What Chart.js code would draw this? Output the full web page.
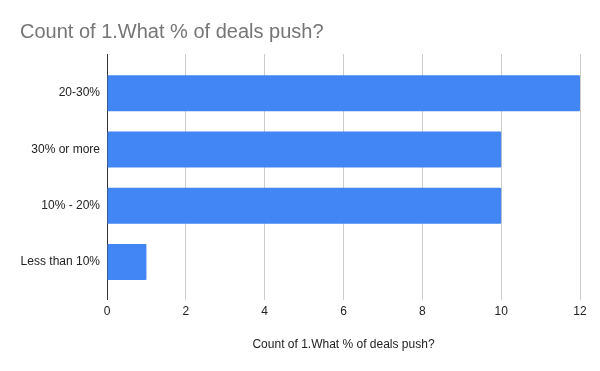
<!DOCTYPE html>
<html>
<head>
<meta charset="utf-8">
<script src="https://cdn.jsdelivr.net/npm/chart.js@4"></script>
<style>
  html, body { margin: 0; padding: 0; background: #fff; }
  #wrap { width: 600px; height: 371px; }
</style>
</head>
<body>
<div id="wrap"><canvas id="dealsChart"></canvas></div>
<script>
// data
const categories = ['20-30%', '30% or more', '10% - 20%', 'Less than 10%'];
const counts = [12, 10, 10, 1];
const xTicks = [0, 2, 4, 6, 8, 10, 12];

const fontFamily = "'Liberation Sans', Arial, sans-serif";

// Google-style grid lines poke out a bit above the plot area
const gridOverhang = {
    id: 'gridOverhang',
    beforeDatasetsDraw(chart) {
        const x = chart.scales.x;
        const ctx = chart.ctx;
        const top = chart.chartArea.top;
        ctx.save();
        ctx.lineWidth = 1;
        x.ticks.forEach(t => {
            const px = Math.round(x.getPixelForValue(t.value) - 0.5) + 0.5;
            ctx.strokeStyle = t.value === 0 ? '#333333' : '#cccccc';
            ctx.beginPath();
            ctx.moveTo(px, top - 11);
            ctx.lineTo(px, top);
            ctx.stroke();
        });
        ctx.restore();
    }
};

const dealsCtx = document.getElementById('dealsChart').getContext('2d');
const dealsChart = new Chart(dealsCtx, {
    type: 'bar',
    data: {
        labels: categories,
        datasets: [{
            label: 'Count of 1.What % of deals push?',
            data: counts,
            backgroundColor: '#4285f4',
            borderRadius: 1,
            barPercentage: 0.64,
            categoryPercentage: 1
        }]
    },
    plugins: [gridOverhang],
    options: {
        indexAxis: 'y',
        responsive: true,
        maintainAspectRatio: false,
        animation: false,
        layout: { padding: { left: 20, right: 20, top: 0, bottom: 0 } },
        plugins: {
            legend: { display: false },
            tooltip: { enabled: false },
            title: {
                display: true,
                text: 'Count of 1.What % of deals push?',
                align: 'start',
                color: '#757575',
                font: { family: fontFamily, size: 20, weight: 'normal' },
                padding: { top: 20, bottom: 21 }
            }
        },
        scales: {
            x: {
                min: 0,
                max: 12,
                afterBuildTicks: s => { s.ticks = xTicks.map(v => ({ value: v })); },
                afterFit: s => { s.height = 81; },
                grid: {
                    color: c => (c.tick && c.tick.value === 0 ? '#333333' : '#cccccc'),
                    tickLength: 10,
                    drawTicks: true
                },
                border: { display: false },
                ticks: {
                    color: '#222222',
                    font: { family: fontFamily, size: 12 },
                    padding: 4
                },
                title: {
                    display: true,
                    text: 'Count of 1.What % of deals push?',
                    color: '#222222',
                    font: { family: fontFamily, size: 12 },
                    padding: { top: 0, bottom: 19 }
                }
            },
            y: {
                afterFit: s => { s.width = 87; },
                grid: { display: false, drawTicks: false },
                border: { display: false },
                ticks: {
                    color: '#222222',
                    font: { family: fontFamily, size: 12 },
                    padding: 7
                }
            }
        }
    }
});
</script>
</body>
</html>
